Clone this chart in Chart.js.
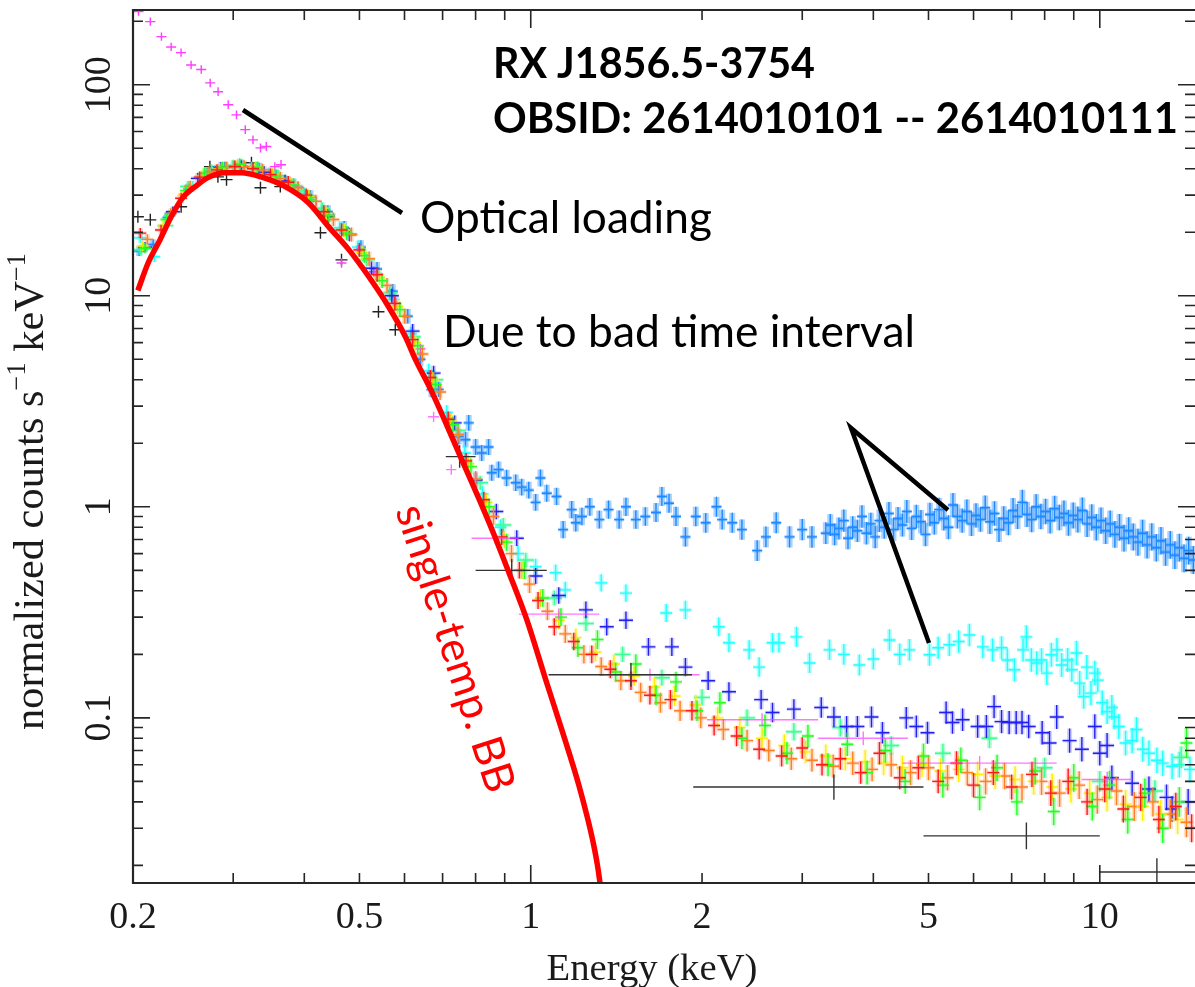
<!DOCTYPE html>
<html>
<head>
<meta charset="utf-8">
<script src="https://cdn.jsdelivr.net/npm/chart.js@4.4.0/dist/chart.umd.min.js"></script>
<style>
  html, body { margin: 0; padding: 0; background: #fff; }
  #wrap { width: 1195px; height: 987px; }
</style>
</head>
<body>
<div id="wrap"><canvas id="spec" width="1195" height="987"></canvas></div>
<script>
// values: energy in keV, normalized counts s^-1 keV^-1

// single-temperature blackbody model
const modelE = [0.204, 0.2126, 0.2231, 0.2334, 0.2454, 0.2573, 0.2709, 0.2904, 0.3101, 0.3358, 0.3703, 0.4067, 0.4416, 0.4793, 0.5194, 0.5622, 0.6022, 0.627, 0.667, 0.709, 0.758, 0.81, 0.86, 0.915, 0.985, 1.063, 1.14, 1.215, 1.26, 1.29, 1.31, 1.325];
const modelY = [10.6, 14.3, 18.4, 23.7, 29.5, 32.9, 36.3, 38.3, 38.3, 36.6, 32.9, 27.6, 21.2, 16.5, 12.3, 8.9, 6.4, 5.0, 3.6, 2.5, 1.65, 1.1, 0.75, 0.49, 0.29, 0.151, 0.084, 0.048, 0.033, 0.025, 0.020, 0.0162];

// observations
const redE = [0.206, 0.224, 0.243, 0.262, 0.281, 0.302, 0.325, 0.349, 0.375, 0.403, 0.433, 0.465, 0.5, 0.537, 0.577, 0.62, 0.666, 0.716, 0.77, 0.827, 0.889, 0.955, 1.03, 1.1, 1.19, 1.28, 1.38, 1.5, 1.62, 1.76, 1.92, 2.1, 2.3, 2.52, 2.76, 3.0, 3.25, 3.5, 3.8, 4.1, 4.45, 4.8, 5.2, 5.6, 6.0, 6.5, 7.0, 7.6, 8.2, 8.8, 9.5, 10.2, 11.0, 11.8, 12.7, 13.6, 14.5];
const redY = [19.8, 20.5, 29, 36.5, 39.5, 41, 40, 37.5, 34.5, 30, 25, 20.5, 16.5, 12.6, 9.2, 6.2, 4.1, 2.6, 1.65, 1.08, 0.72, 0.5, 0.36, 0.27, 0.23, 0.2, 0.17, 0.15, 0.128, 0.122, 0.108, 0.092, 0.082, 0.071, 0.066, 0.072, 0.06, 0.064, 0.055, 0.068, 0.052, 0.058, 0.05, 0.061, 0.048, 0.055, 0.047, 0.054, 0.044, 0.05, 0.04, 0.046, 0.037, 0.042, 0.033, 0.038, 0.03];

const greenE = [0.21, 0.229, 0.248, 0.267, 0.287, 0.308, 0.331, 0.356, 0.383, 0.411, 0.442, 0.475, 0.51, 0.548, 0.589, 0.633, 0.68, 0.73, 0.785, 0.845, 0.907, 0.975, 1.05, 1.13, 1.21, 1.31, 1.41, 1.53, 1.66, 1.8, 1.96, 2.15, 2.35, 2.58, 2.82, 3.07, 3.33, 3.6, 3.9, 4.2, 4.55, 4.9, 5.3, 5.7, 6.15, 6.6, 7.15, 7.7, 8.3, 9.0, 9.7, 10.4, 11.2, 12.0, 12.9, 13.8, 14.2];
const greenY = [16.8, 23, 31.5, 38, 40.5, 42, 40.5, 37, 33.5, 28.5, 24, 19.8, 15.5, 11.8, 8.6, 5.8, 3.8, 2.45, 1.55, 1.0, 0.68, 0.5, 0.37, 0.3, 0.215, 0.235, 0.165, 0.18, 0.128, 0.148, 0.108, 0.118, 0.08, 0.092, 0.068, 0.082, 0.06, 0.075, 0.055, 0.07, 0.05, 0.066, 0.048, 0.063, 0.042, 0.058, 0.04, 0.056, 0.036, 0.052, 0.038, 0.048, 0.033, 0.044, 0.03, 0.04, 0.076];

const yellowE = [0.208, 0.226, 0.245, 0.264, 0.284, 0.305, 0.328, 0.352, 0.379, 0.407, 0.437, 0.47, 0.505, 0.542, 0.583, 0.626, 0.673, 0.723, 0.777, 0.836, 0.898, 0.965, 1.04, 1.12, 1.2, 1.3, 1.4, 1.52, 1.65, 1.79, 1.95, 2.13, 2.33, 2.55, 2.79, 3.04, 3.3, 3.57, 3.87, 4.17, 4.5, 4.87, 5.25, 5.65, 6.1, 6.55, 7.1, 7.65, 8.25, 8.9, 9.6, 10.3, 11.1, 11.9, 12.8, 13.7];
const yellowY = [17.2, 21.5, 30, 37, 40, 41.5, 40.5, 37.5, 34, 29.5, 24.5, 20.5, 16, 12.2, 8.9, 6.0, 4.0, 2.55, 1.6, 1.05, 0.7, 0.5, 0.37, 0.29, 0.24, 0.205, 0.18, 0.158, 0.14, 0.127, 0.115, 0.1, 0.09, 0.08, 0.074, 0.069, 0.066, 0.064, 0.062, 0.061, 0.058, 0.06, 0.056, 0.057, 0.054, 0.053, 0.051, 0.05, 0.047, 0.046, 0.044, 0.042, 0.039, 0.038, 0.035, 0.033];

const orangeE = [0.212, 0.233, 0.252, 0.272, 0.292, 0.314, 0.338, 0.363, 0.39, 0.419, 0.45, 0.484, 0.52, 0.559, 0.6, 0.645, 0.693, 0.745, 0.8, 0.86, 0.925, 0.995, 1.07, 1.15, 1.24, 1.33, 1.44, 1.56, 1.69, 1.83, 1.99, 2.18, 2.4, 2.62, 2.87, 3.12, 3.4, 3.68, 3.98, 4.3, 4.65, 5.0, 5.4, 5.85, 6.3, 6.8, 7.3, 7.9, 8.5, 9.2, 9.9, 10.7, 11.5, 12.4, 13.3, 14.2];
const orangeY = [18.5, 24.5, 33, 38.5, 40.5, 41, 39.5, 36, 32.5, 28, 23, 19.5, 15, 11.2, 8.0, 5.3, 3.5, 2.2, 1.35, 0.9, 0.6, 0.43, 0.32, 0.25, 0.2, 0.175, 0.15, 0.132, 0.118, 0.108, 0.1, 0.088, 0.078, 0.07, 0.064, 0.063, 0.059, 0.061, 0.057, 0.06, 0.055, 0.058, 0.052, 0.055, 0.05, 0.053, 0.047, 0.05, 0.044, 0.048, 0.041, 0.045, 0.038, 0.04, 0.035, 0.032];

const mintE = [0.206, 0.228, 0.25, 0.275, 0.3, 0.33, 0.36, 0.395, 0.43, 0.47, 0.515, 0.565, 0.62, 0.68, 0.745, 0.815, 0.895, 0.98, 1.1, 1.25, 1.45, 1.7, 2.0, 2.4, 2.9, 3.5, 4.3, 5.3, 6.4, 8.0, 10.0, 12.5, 13.9];
const mintY = [16.5, 21.5, 33, 39.5, 41.5, 40.5, 37, 31.5, 26, 20.5, 14.8, 10.3, 6.4, 4.0, 2.3, 1.3, 0.82, 0.56, 0.37, 0.28, 0.2, 0.155, 0.125, 0.1, 0.086, 0.09, 0.074, 0.068, 0.08, 0.058, 0.05, 0.045, 0.065];

const blueE = [0.21, 0.235, 0.26, 0.285, 0.31, 0.34, 0.37, 0.405, 0.44, 0.48, 0.525, 0.57, 0.62, 0.675, 0.735, 0.8, 0.87, 0.945, 1.02, 1.12, 1.25, 1.36, 1.47, 1.61, 1.77, 1.87, 2.05, 2.23, 2.54, 2.66, 2.9, 3.24, 3.41, 3.59, 3.75, 3.97, 4.15, 4.57, 4.76, 4.98, 5.37, 5.51, 5.74, 6.1, 6.32, 6.52, 6.72, 6.93, 7.13, 7.3, 7.5, 7.92, 8.16, 8.4, 8.85, 9.3, 9.8, 10.0, 10.3, 10.5, 11.4, 12.2, 13.1, 13.4, 14.3];
const blueY = [17, 25, 36, 40.5, 41, 38.5, 35, 29.5, 24, 19.5, 13.5, 10, 6.8, 4.3, 2.5, 1.34, 0.95, 0.71, 0.47, 0.38, 0.325, 0.27, 0.29, 0.217, 0.217, 0.174, 0.15, 0.133, 0.122, 0.106, 0.11, 0.112, 0.101, 0.091, 0.091, 0.101, 0.085, 0.1, 0.091, 0.085, 0.106, 0.095, 0.098, 0.091, 0.091, 0.113, 0.096, 0.095, 0.095, 0.095, 0.091, 0.085, 0.076, 0.101, 0.078, 0.071, 0.091, 0.068, 0.074, 0.052, 0.049, 0.046, 0.042, 0.037, 0.04];

const cyanE = [0.206, 0.218, 0.232, 0.255, 0.278, 0.3, 0.323, 0.347, 0.373, 0.4, 0.43, 0.462, 0.497, 0.534, 0.574, 0.616, 0.662, 0.712, 0.766, 0.823, 0.885, 0.95, 1.02, 1.106, 1.15, 1.33, 1.47, 1.73, 1.87, 2.14, 2.23, 2.42, 2.52, 2.66, 2.73, 2.93, 3.09, 3.35, 3.55, 3.78, 4.0, 4.27, 4.45, 4.63, 5.02, 5.2, 5.44, 5.65, 5.9, 6.23, 6.48, 6.72, 6.88, 7.08, 7.33, 7.43, 7.58, 7.75, 7.9, 8.07, 8.22, 8.41, 8.57, 8.78, 8.93, 9.1, 9.22, 9.37, 9.49, 9.65, 9.8, 9.92, 10.1, 10.3, 10.5, 10.6, 10.8, 11.1, 11.4, 11.6, 11.9, 12.2, 12.6, 12.9, 13.4, 13.8, 14.4];
const cyanY = [18.8, 15.3, 24, 33, 39, 41, 40.5, 38, 34.5, 30.5, 25.5, 21, 17, 12.8, 9.6, 6.6, 4.4, 2.8, 1.8, 1.15, 0.8, 0.6, 0.52, 0.487, 0.404, 0.436, 0.39, 0.314, 0.325, 0.27, 0.227, 0.21, 0.174, 0.227, 0.227, 0.242, 0.182, 0.21, 0.2, 0.178, 0.19, 0.234, 0.2, 0.21, 0.199, 0.215, 0.222, 0.23, 0.247, 0.217, 0.21, 0.215, 0.188, 0.169, 0.21, 0.242, 0.188, 0.182, 0.188, 0.163, 0.199, 0.21, 0.178, 0.188, 0.169, 0.203, 0.146, 0.126, 0.174, 0.131, 0.163, 0.151, 0.118, 0.107, 0.112, 0.101, 0.091, 0.076, 0.078, 0.088, 0.071, 0.068, 0.063, 0.061, 0.059, 0.06, 0.057];

const dodgerE = [0.205, 0.217, 0.23, 0.25, 0.27, 0.29, 0.31, 0.333, 0.357, 0.383, 0.41, 0.44, 0.47, 0.503, 0.537, 0.572, 0.608, 0.64, 0.669, 0.689, 0.717, 0.747, 0.768, 0.778, 0.80, 0.82, 0.843, 0.854, 0.878, 0.907, 0.941, 0.964, 0.992, 1.02, 1.04, 1.067, 1.11, 1.14, 1.18, 1.2, 1.23, 1.27, 1.32, 1.37, 1.43, 1.47, 1.53, 1.59, 1.66, 1.70, 1.75, 1.80, 1.87, 1.95, 2.03, 2.12, 2.17, 2.26, 2.35, 2.50, 2.59, 2.70, 2.85, 3.0, 3.12, 3.30,
  3.36, 3.42, 3.48, 3.55, 3.61, 3.68, 3.75, 3.82, 3.89, 3.96, 4.03, 4.1, 4.18, 4.26, 4.34, 4.42, 4.5, 4.58, 4.67, 4.76, 4.85, 4.94, 5.03, 5.12, 5.22, 5.32, 5.42, 5.52, 5.62, 5.73, 5.84, 5.95, 6.06, 6.17, 6.29, 6.41, 6.53, 6.65, 6.78, 6.91, 7.04, 7.17, 7.31, 7.45, 7.59, 7.73, 7.88, 8.03, 8.18, 8.33, 8.49, 8.65, 8.81, 8.98, 9.15, 9.32, 9.5, 9.68, 9.86, 10.05, 10.24, 10.43, 10.63, 10.83, 11.03, 11.24, 11.45, 11.67, 11.89, 12.11, 12.34, 12.57, 12.81, 13.05, 13.3, 13.55, 13.8, 14.06, 14.33, 14.6];
const dodgerY = [16.3, 17.5, 23.5, 32, 38, 40.5, 41.5, 40, 37, 33.5, 29.5, 25, 21, 17, 13.4, 10.5, 8.0, 5.0, 3.59, 3.6, 2.58, 2.15, 2.08, 2.5, 1.92, 1.8, 1.92, 1.45, 1.5, 1.37, 1.3, 1.24, 1.2, 1.05, 1.37, 1.16, 1.12, 0.78, 0.97, 0.84, 0.9, 1.0, 0.87, 0.97, 0.87, 1.0, 0.87, 0.9, 0.94, 1.12, 1.04, 0.9, 0.72, 0.9, 0.84, 1.0, 0.87, 0.84, 0.78, 0.62, 0.72, 0.84, 0.72, 0.78, 0.72, 0.75,
  0.82, 0.74, 0.79, 0.86, 0.71, 0.8, 0.77, 0.9, 0.75, 0.83, 0.72, 0.86, 0.8, 0.93, 0.78, 0.88, 0.82, 0.95, 0.79, 0.9, 0.85, 0.74, 0.92, 0.84, 0.97, 0.88, 0.8, 1.02, 0.9, 0.86, 0.95, 0.83, 0.91, 0.87, 0.99, 0.85, 0.93, 0.78, 0.88, 0.84, 0.96, 0.9, 1.05, 0.92, 0.87, 1.0, 0.9, 0.95, 0.86, 0.98, 0.89, 0.93, 0.84, 0.91, 0.87, 0.96, 0.83, 0.89, 0.8, 0.86, 0.77, 0.83, 0.74, 0.8, 0.71, 0.77, 0.72, 0.68, 0.75, 0.66, 0.72, 0.64, 0.69, 0.61, 0.66, 0.59, 0.64, 0.57, 0.62, 0.56];

// optical loading observation (magenta)
const magE = [0.2045, 0.2145, 0.2244, 0.2334, 0.2429, 0.253, 0.2636, 0.2733, 0.2822, 0.294, 0.304, 0.315, 0.325, 0.335, 0.343, 0.355, 0.364, 0.39, 0.42, 0.465, 0.498, 0.53, 0.58, 0.64];
const magY = [222, 199, 169, 151, 142, 124, 118, 102, 92.7, 80.4, 72, 61.3, 54.8, 50.2, 51, 40.9, 41.8, 33, 28, 14.3, 16.5, 13, 9.2, 5.6];
const magBinE = [0.675, 0.725, 0.866, 1.12, 1.62, 2.55, 3.84, 6.15, 10.3];
const magBinLo = [0.66, 0.71, 0.787, 0.953, 1.32, 2.04, 3.2, 4.5, 9.3];
const magBinHi = [0.69, 0.74, 0.953, 1.32, 1.98, 3.2, 4.6, 8.4, 11.4];
const magBinY = [2.67, 1.5, 0.71, 0.31, 0.16, 0.098, 0.08, 0.061, 0.051];

// black observation: narrow bins, then heavily grouped wide bins
const blackE = [0.204, 0.2145, 0.243, 0.273, 0.282, 0.292, 0.323, 0.335, 0.363, 0.427, 0.441, 0.465, 0.54, 0.578];
const blackY = [23.7, 22.9, 26.4, 40.9, 36.6, 35.5, 42.7, 32.5, 32.9, 19.9, 23.7, 14.8, 8.4, 6.9];
const blackBinE = [0.75, 0.926, 1.5, 3.41, 7.43, 12.6];
const blackBinLo = [0.709, 0.80, 1.075, 1.93, 4.9, 10.0];
const blackBinHi = [0.80, 1.067, 1.92, 4.9, 10.0, 15.5];
const blackBinY = [1.73, 0.5, 0.16, 0.047, 0.0276, 0.0186];

// axes
const xLabelVals = [0.2, 0.5, 1, 2, 5, 10];
const xLabels = ['0.2', '0.5', '1', '2', '5', '10'];
const xMajor = [1, 10];
const xMinor = [0.3, 0.4, 0.5, 0.6, 0.7, 0.8, 0.9, 2, 3, 4, 5, 6, 7, 8, 9];
const yLabelVals = [0.1, 1, 10, 100];
const yLabels = ['0.1', '1', '10', '100'];
const yMajor = [0.1, 1, 10, 100];
const yMinor = [0.02, 0.03, 0.04, 0.05, 0.06, 0.07, 0.08, 0.09, 0.2, 0.3, 0.4, 0.5, 0.6, 0.7, 0.8, 0.9, 2, 3, 4, 5, 6, 7, 8, 9, 20, 30, 40, 50, 60, 70, 80, 90, 200];

const pts = (E, Y, lo, hi) => E.map((e, i) => ({ x: e, y: Y[i], lo: lo ? lo[i] : 0, hi: hi ? hi[i] : 0 }));

function errSet(label, data, cross) {
  return { type: 'scatter', label, data, cross, pointRadius: 0, pointHoverRadius: 0, showLine: false };
}

// draws the error-bar crosses at the positions chart.js computed
const crossPlugin = {
  id: 'crosses',
  beforeDatasetsDraw(chart) {
    const { ctx, chartArea: a, scales: { x } } = chart;
    ctx.save();
    ctx.beginPath();
    ctx.rect(a.left, a.top, a.right - a.left, a.bottom - a.top);
    ctx.clip();
    chart.data.datasets.forEach((ds, i) => {
      const c = ds.cross;
      if (!c) return;
      ctx.strokeStyle = c.color;
      chart.getDatasetMeta(i).data.forEach((el, j) => {
        const d = ds.data[j];
        const x0 = d.lo ? x.getPixelForValue(d.lo) : el.x - c.w;
        const x1 = d.hi ? x.getPixelForValue(d.hi) : el.x + c.w;
        const h = c.h + c.grow * (el.x - a.left) / (a.right - a.left);
        if (c.halo) {
          ctx.globalAlpha = c.halo;
          ctx.lineWidth = c.hw || 5;
          ctx.beginPath(); ctx.moveTo(el.x, el.y - h); ctx.lineTo(el.x, el.y + h); ctx.stroke();
          ctx.lineWidth = 3.5;
          ctx.beginPath(); ctx.moveTo(x0, el.y); ctx.lineTo(x1, el.y); ctx.stroke();
        }
        ctx.globalAlpha = c.alpha || 1;
        ctx.lineWidth = c.lw || 1.4;
        ctx.beginPath();
        ctx.moveTo(x0, el.y); ctx.lineTo(x1, el.y);
        ctx.moveTo(el.x, el.y - h); ctx.lineTo(el.x, el.y + h);
        ctx.stroke();
      });
    });
    ctx.restore();
  }
};

function fitSize(ctx, text, weight, family, width) {
  ctx.font = weight + ' 100px ' + family;
  return 100 * width / ctx.measureText(text).width;
}

// frame, inward ticks, labels and annotations
const framePlugin = {
  id: 'frame',
  afterDraw(chart) {
    const { ctx, chartArea: a, scales: { x, y } } = chart;
    ctx.save();
    ctx.strokeStyle = '#262626';
    ctx.lineWidth = 2.2;
    ctx.beginPath();
    ctx.moveTo(a.right, a.top); ctx.lineTo(a.left, a.top); ctx.lineTo(a.left, a.bottom); ctx.lineTo(a.right, a.bottom);
    ctx.stroke();

    ctx.lineWidth = 1.6;
    ctx.beginPath();
    const xt = (v, len) => {
      const px = x.getPixelForValue(v);
      ctx.moveTo(px, a.bottom); ctx.lineTo(px, a.bottom - len);
      ctx.moveTo(px, a.top); ctx.lineTo(px, a.top + len);
    };
    const yt = (v, len) => {
      const py = y.getPixelForValue(v);
      ctx.moveTo(a.left, py); ctx.lineTo(a.left + len, py);
      ctx.moveTo(a.right, py); ctx.lineTo(a.right - len, py);
    };
    xMajor.forEach(v => xt(v, 18));
    xMinor.forEach(v => xt(v, 10));
    yMajor.forEach(v => yt(v, 17));
    yMinor.forEach(v => yt(v, 10));
    ctx.stroke();

    // tick labels
    ctx.fillStyle = '#1a1a1a';
    ctx.font = '38px "Liberation Serif"';
    ctx.textAlign = 'center';
    ctx.textBaseline = 'alphabetic';
    xLabelVals.forEach((v, i) => ctx.fillText(xLabels[i], x.getPixelForValue(v), 928));
    yLabelVals.forEach((v, i) => {
      ctx.save();
      ctx.translate(110, y.getPixelForValue(v));
      ctx.rotate(-Math.PI / 2);
      ctx.fillText(yLabels[i], 0, 0);
      ctx.restore();
    });

    // axis titles
    const xs = fitSize(ctx, 'Energy (keV)', '', '"Liberation Serif"', 211);
    ctx.font = xs + 'px "Liberation Serif"';
    ctx.fillText('Energy (keV)', 652, 980);

    const parts = [['normalized counts s', 1, 0], ['\u22121', 0.62, 0.42], [' keV', 1, 0], ['\u22121', 0.62, 0.42]];
    let tot = 0;
    parts.forEach(p => { ctx.font = (100 * p[1]) + 'px "Liberation Serif"'; tot += ctx.measureText(p[0]).width; });
    const ys = 100 * 477 / tot;
    ctx.save();
    ctx.translate(43, 730);
    ctx.rotate(-Math.PI / 2);
    ctx.textAlign = 'left';
    let cx = 0;
    parts.forEach(p => {
      ctx.font = (ys * p[1]) + 'px "Liberation Serif"';
      ctx.fillText(p[0], cx, -p[2] * ys);
      cx += ctx.measureText(p[0]).width;
    });
    ctx.restore();

    // annotation pointers
    ctx.strokeStyle = '#000';
    ctx.lineWidth = 4.5;
    ctx.beginPath();
    ctx.moveTo(243, 110); ctx.lineTo(402, 213);
    ctx.moveTo(948, 510); ctx.lineTo(851, 428); ctx.lineTo(929, 643);
    ctx.stroke();

    // texts
    const sans = 'Lato';
    ctx.fillStyle = '#000';
    ctx.textAlign = 'left';
    let s = fitSize(ctx, 'RX J1856.5-3754', 'bold', sans, 322);
    ctx.font = 'bold ' + s + 'px ' + sans;
    ctx.fillText('RX J1856.5-3754', 493, 78);
    s = fitSize(ctx, 'OBSID: 2614010101 -- 2614010111', 'bold', sans, 685);
    ctx.font = 'bold ' + s + 'px ' + sans;
    ctx.fillText('OBSID: 2614010101 -- 2614010111', 493, 133);
    s = fitSize(ctx, 'Optical loading', '', sans, 292);
    ctx.font = s + 'px ' + sans;
    ctx.fillText('Optical loading', 420, 233);
    s = fitSize(ctx, 'Due to bad time interval', '', sans, 472);
    ctx.font = s + 'px ' + sans;
    ctx.fillText('Due to bad time interval', 443, 347);

    s = fitSize(ctx, 'single-temp. BB', '', sans, 300);
    ctx.font = s + 'px ' + sans;
    ctx.fillStyle = '#ff0000';
    ctx.save();
    ctx.translate(453, 649);
    ctx.rotate(72 * Math.PI / 180);
    ctx.textAlign = 'center';
    ctx.fillText('single-temp. BB', 0, 0.28 * s);
    ctx.restore();

    ctx.restore();
  }
};

new Chart(document.getElementById('spec'), {
  type: 'scatter',
  data: {
    datasets: [
      { type: 'line', label: 'single-temp. BB', data: pts(modelE, modelY), borderColor: '#ff0000', borderWidth: 5.5,
        pointRadius: 0, fill: false, cubicInterpolationMode: 'monotone' },
      errSet('black', pts(blackE, blackY), { color: '#222', w: 6, h: 6, grow: 0 }),
      errSet('dodger', pts(dodgerE, dodgerY), { color: '#1e88ff', w: 5, h: 5, grow: 9, halo: 0.38, hw: 6 }),
      errSet('cyan', pts(cyanE, cyanY), { color: '#22ffff', w: 6, h: 5, grow: 8, halo: 0.3 }),
      errSet('magenta', pts(magE, magY), { color: '#ff3cff', w: 5, h: 4, grow: 4 }),
      errSet('mint', pts(mintE, mintY), { color: '#3cff96', w: 8, h: 5, grow: 6, halo: 0.35 }),
      errSet('blue', pts(blueE, blueY), { color: '#2020f0', w: 7, h: 5, grow: 8, halo: 0.2 }),
      errSet('orange', pts(orangeE, orangeY), { color: '#ff7f24', w: 6, h: 5, grow: 10, halo: 0.25 }),
      errSet('yellow', pts(yellowE, yellowY), { color: '#ffee00', w: 6, h: 5, grow: 10, halo: 0.25 }),
      errSet('green', pts(greenE, greenY), { color: '#22ff22', w: 6, h: 5, grow: 10, halo: 0.25 }),
      errSet('red', pts(redE, redY), { color: '#ff1a1a', w: 6, h: 5, grow: 9, halo: 0.2 }),
      errSet('magenta bins', pts(magBinE, magBinY, magBinLo, magBinHi), { color: '#ff3cff', w: 6, h: 4, grow: 4, alpha: 0.7 }),
      errSet('black bins', pts(blackBinE, blackBinY, blackBinLo, blackBinHi), { color: '#333', w: 6, h: 10, grow: 4 })
    ]
  },
  options: {
    responsive: false,
    animation: false,
    events: [],
    layout: { padding: { left: 133, right: 0, top: 10, bottom: 104 } },
    scales: {
      x: { type: 'logarithmic', min: 0.2, max: 14.7, bounds: 'data', display: false },
      y: { type: 'logarithmic', min: 0.0165, max: 226, bounds: 'data', display: false }
    },
    plugins: { legend: { display: false }, tooltip: { enabled: false } }
  },
  plugins: [crossPlugin, framePlugin]
});
</script>
</body>
</html>
